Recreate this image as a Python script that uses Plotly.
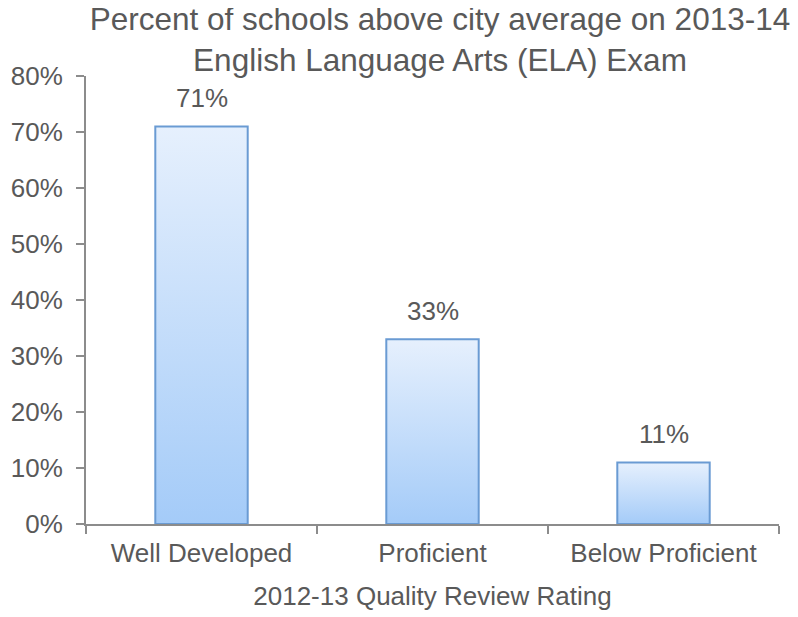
import plotly.graph_objects as go

categories = ["Well Developed", "Proficient", "Below Proficient"]
values = [0.71, 0.33, 0.11]
value_labels = ["71%", "33%", "11%"]
y_ticks = [0, 0.1, 0.2, 0.3, 0.4, 0.5, 0.6, 0.7, 0.8]

TEXT = "#595959"
AXIS = "#8c8c8c"
BORDER = "#6a9bd3"
TOP = "#e6f0fd"
BOTTOM = "#a4cbf8"
BAR_W = 0.4
FONT = "Liberation Sans, Arial, sans-serif"

fig = go.Figure()
for i, v in enumerate(values):
    x0, x1 = i - BAR_W / 2, i + BAR_W / 2
    fig.add_trace(go.Scatter(
        x=[x0, x0, x1, x1, x0], y=[0, v, v, 0, 0],
        mode="lines", fill="toself",
        fillgradient=dict(type="vertical", start=0, stop=v,
                          colorscale=[[0, BOTTOM], [1, TOP]]),
        line=dict(color=BORDER, width=2),
        hoverinfo="skip", showlegend=False, name=categories[i],
    ))
    fig.add_annotation(x=i, y=v, text=value_labels[i], showarrow=False,
                       yanchor="bottom", yshift=11,
                       font=dict(size=26, color=TEXT, family=FONT))

fig.update_layout(
    width=798, height=617,
    margin=dict(l=78, r=27, t=68, b=101),
    paper_bgcolor="white", plot_bgcolor="white",
    font=dict(family=FONT, color=TEXT, size=26),
    title=dict(text="Percent of schools above city average on 2013-14<br>English Language Arts (ELA) Exam",
               x=432 / 798, xanchor="center", xref="container",
               y=1 - 22 / 617, yanchor="top", yref="container",
               font=dict(size=31.5, color=TEXT, family=FONT)),
    showlegend=False,
)
fig.update_xaxes(
    range=[-0.5, 2.5], tickmode="array", tickvals=[0, 1, 2], ticktext=categories,
    ticks="", showgrid=False, zeroline=False,
    showline=True, linecolor=AXIS, linewidth=2,
    minor=dict(tick0=-0.5, dtick=1, ticks="outside", ticklen=8, tickcolor=AXIS, tickwidth=2, showgrid=False),
    tickfont=dict(size=26, color=TEXT), ticklabelstandoff=5,
    title=dict(text="2012-13 Quality Review Rating", font=dict(size=26, color=TEXT), standoff=20),
    automargin=False, fixedrange=True,
)
fig.update_yaxes(
    range=[0, 0.8], tickmode="array", tickvals=y_ticks, tickformat=".0%",
    ticks="outside", ticklen=8, tickcolor=AXIS, tickwidth=2,
    showgrid=False, zeroline=False,
    showline=True, linecolor=AXIS, linewidth=2,
    tickfont=dict(size=26, color=TEXT), ticklabelstandoff=8,
    automargin=False, fixedrange=True,
)

fig.write_html("out.html")
